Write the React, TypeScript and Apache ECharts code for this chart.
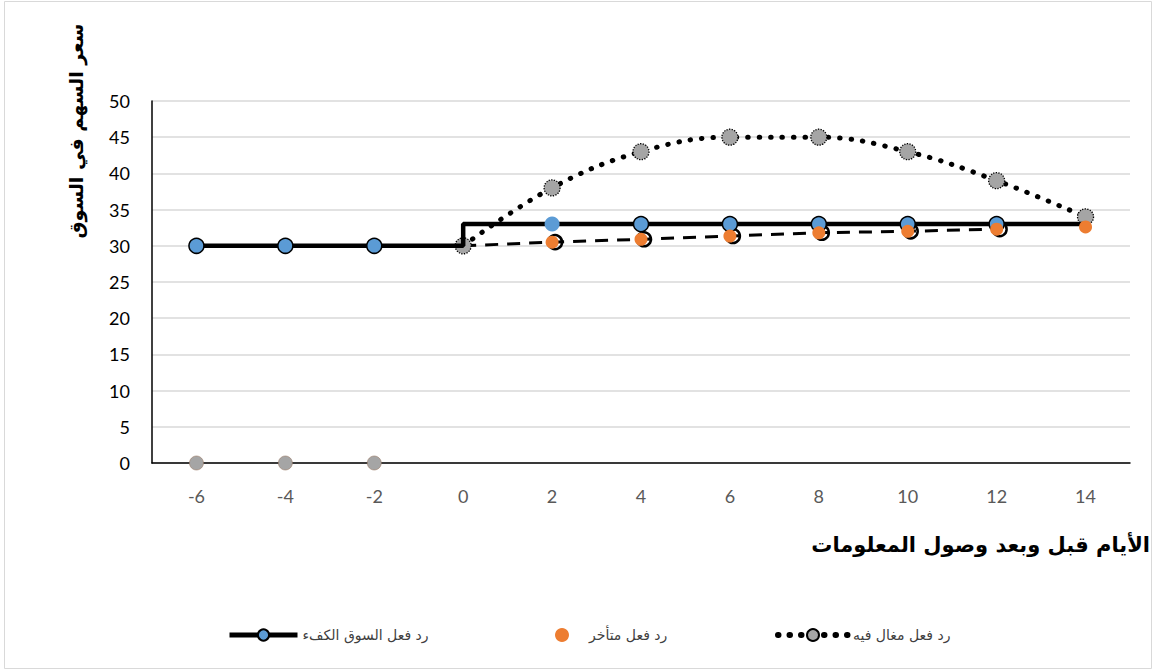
import React, { useEffect, useRef } from "react";
import * as echarts from "echarts";

const xCats = ["-6", "-4", "-2", "0", "2", "4", "6", "8", "10", "12", "14"];
const yTicks = { min: 0, max: 50, interval: 5 };

const nameEfficient = "رد فعل السوق الكفء";
const nameDelayed = "رد فعل متأخر";
const nameOver = "رد فعل مغال فيه";
const yTitle = "سعر السهم في السوق";
const xTitle = "الأيام قبل وبعد وصول المعلومات";

const efficient = [30, 30, 30, 30, 33, 33, 33, 33, 33, 33, 33];
const overreaction = [null, null, null, 30, 38, 43, 45, 45, 43, 39, 34];
const overPre = [0, 0, 0, null, null, null, null, null, null, null, null];
const delayedLine = [null, null, null, 30, 30.5, 30.9, 31.35, 31.8, 32.0, 32.3, null];
const delayedPts = [null, null, null, null, 30.5, 30.9, 31.35, 31.8, 32.0, 32.3, 32.6];

const ARABIC = "'DejaVu Sans', 'Noto Sans', sans-serif";
const NUM = "Lato, 'Open Sans', sans-serif";

export default function App() {
  const ref = useRef<HTMLDivElement>(null);
  useEffect(() => {
    if (!ref.current) return;
    const chart = echarts.init(ref.current, undefined, { renderer: "svg" });
    const effData = efficient.map((v, i) => {
      if (i === 3 || i === 10) return { value: v, symbol: "none" };
      if (i === 4) return { value: v, itemStyle: { borderWidth: 0 } };
      return v;
    });
    const delayedLineData = delayedLine.map((v, i) => (i === 3 ? { value: v, symbol: "none" } : v));
    const legendText = { fontFamily: ARABIC, fontSize: 14, color: "#404040" };
    chart.setOption({
      animation: false,
      backgroundColor: "#ffffff",
      grid: { left: 152, right: 24, top: 101, bottom: 209 },
      xAxis: {
        type: "category",
        data: xCats,
        boundaryGap: true,
        axisLine: { show: true, lineStyle: { color: "#000", width: 1.5 } },
        axisTick: { show: false },
        axisLabel: { color: "#595959", fontSize: 18, fontFamily: NUM, margin: 24 },
        splitLine: { show: false },
      },
      yAxis: {
        type: "value",
        min: yTicks.min,
        max: yTicks.max,
        interval: yTicks.interval,
        axisLine: { show: true, lineStyle: { color: "#000", width: 1.5 } },
        axisTick: { show: false },
        axisLabel: { color: "#000", fontSize: 18, fontFamily: NUM, margin: 22 },
        splitLine: { show: true, lineStyle: { color: "#d9d9d9", width: 1.5 } },
      },
      legend: [
        {
          data: [nameEfficient],
          left: 222,
          top: 623,
          itemWidth: 68,
          itemHeight: 14,
          itemGap: 8,
          lineStyle: { width: 5, color: "#000" },
          textStyle: legendText,
        },
        {
          data: [nameDelayed],
          left: 550,
          top: 623,
          itemWidth: 16,
          itemHeight: 14,
          itemStyle: { opacity: 1 },
          textStyle: { ...legendText, padding: [0, 0, 0, 14] },
        },
        {
          data: [nameOver],
          left: 770,
          top: 623,
          itemWidth: 70,
          itemHeight: 15,
          lineStyle: { width: 6, color: "#000", type: [0.5, 11], cap: "round" },
          textStyle: legendText,
        },
      ],
      series: [
        {
          name: "delayedLine",
          type: "line",
          data: delayedLineData,
          z: 2,
          symbol: "circle",
          symbolSize: 14,
          symbolOffset: [3, 0],
          lineStyle: { color: "#000", width: 3, type: [13, 9] },
          itemStyle: { color: "rgba(255,255,255,0)", borderColor: "#000", borderWidth: 2.5 },
        },
        {
          name: nameOver,
          type: "line",
          data: overreaction,
          smooth: 0.4,
          z: 3,
          symbol: "circle",
          symbolSize: 16,
          lineStyle: { color: "#000", width: 5, type: [0.5, 11], cap: "round" },
          itemStyle: { color: "#a5a5a5", borderColor: "#000", borderWidth: 1.3, borderType: "dotted" },
        },
        {
          name: "overPre",
          type: "scatter",
          data: overPre,
          z: 3,
          symbol: "circle",
          symbolSize: 14,
          itemStyle: { color: "#a5a5a5", borderColor: "#9a7b66", borderWidth: 0.6, opacity: 1 },
        },
        {
          name: nameEfficient,
          type: "line",
          data: effData,
          step: "start",
          z: 4,
          symbol: "circle",
          symbolSize: 15,
          lineStyle: { color: "#000", width: 4.5 },
          itemStyle: { color: "#5b9bd5", borderColor: "#000", borderWidth: 1.5 },
        },
        {
          name: nameDelayed,
          type: "scatter",
          data: delayedPts,
          z: 5,
          symbol: "circle",
          symbolSize: 13,
          itemStyle: { color: "#ed7d31", opacity: 1 },
        },
      ],
      graphic: [
        {
          type: "rect",
          shape: { x: 4.5, y: 1.5, width: 1147, height: 667 },
          style: { fill: "none", stroke: "#d9d9d9", lineWidth: 1 },
          silent: true,
        },
        {
          type: "text",
          x: 76,
          y: 131,
          rotation: Math.PI / 2,
          style: {
            text: yTitle,
            fontFamily: ARABIC,
            fontSize: 19,
            fontWeight: "bold",
            fill: "#000",
            align: "center",
            verticalAlign: "middle",
          },
        },
        {
          type: "text",
          x: 1150,
          y: 545,
          style: {
            text: xTitle,
            fontFamily: ARABIC,
            fontSize: 21,
            fontWeight: "bold",
            fill: "#000",
            align: "right",
            verticalAlign: "middle",
          },
        },
      ],
    });
    return () => chart.dispose();
  }, []);
  return (
    <div
      ref={ref}
      style={{ position: "absolute", left: 0, top: 0, width: 1154, height: 672 }}
    />
  );
}
